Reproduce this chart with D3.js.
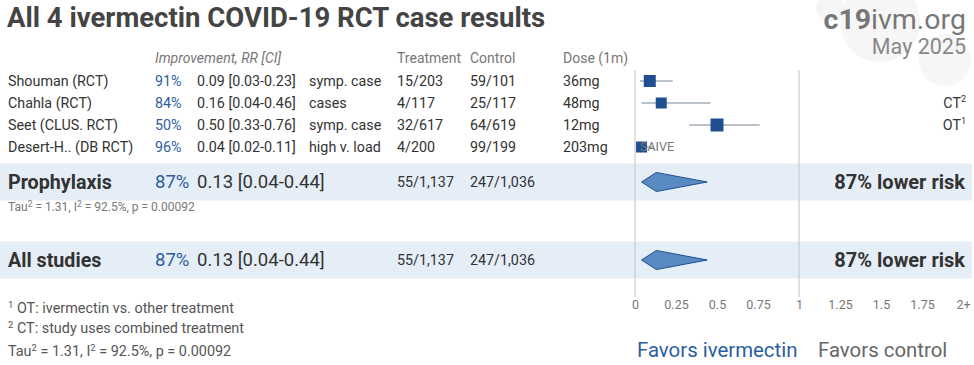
<!DOCTYPE html>
<html><head><meta charset="utf-8">
<script src="https://cdn.jsdelivr.net/npm/d3@7"></script>
<style>body{margin:0;background:#fff}svg{font-family:Roboto,"Noto Sans",sans-serif}</style>
</head><body><svg id="c" width="974" height="365"></svg>
<script>
const studies = ["Shouman (RCT)", "Chahla (RCT)", "Seet (CLUS. RCT)", "Desert-H.. (DB RCT)"];
const improvement = ["91%", "84%", "50%", "96%"];
const rr = [0.09, 0.16, 0.50, 0.04];
const lo = [0.03, 0.04, 0.33, 0.02];
const hi = [0.23, 0.46, 0.76, 0.11];
const outcomes = ["symp. case", "cases", "symp. case", "high v. load"];
const treatment = ["15/203", "4/117", "32/617", "4/200"];
const control = ["59/101", "25/117", "64/619", "99/199"];
const dose = ["36mg", "48mg", "12mg", "203mg"];
const weights = [12, 11, 13, 11];
const notes = [null, ["CT", "2"], ["OT", "1"], null];
const tags = ["", "", "", "SAIVE"];
const summaryLabels = ["Prophylaxis", "All studies"];
const summaryImp = ["87%", "87%"];
const summaryRR = [0.13, 0.13];
const summaryLo = [0.04, 0.04];
const summaryHi = [0.44, 0.44];
const summaryT = ["55/1,137", "55/1,137"];
const summaryC = ["247/1,036", "247/1,036"];
const summaryRisk = ["87% lower risk", "87% lower risk"];
const tickVals = [0, 0.25, 0.5, 0.75, 1, 1.25, 1.5, 1.75, 2];
const tickLabels = ["0", "0.25", "0.5", "0.75", "1", "1.25", "1.5", "1.75", "2+"];

const svg = d3.select("#c");
const x = d3.scaleLinear().domain([0, 2]).range([635, 963]);
const rowY = d3.scalePoint().domain(d3.range(studies.length)).range([81, 147]);
const sumY = [182, 260];
const blue = "#2d5d9f", dark = "#333";

// faint background decoration top right
const deco = svg.append("g").attr("opacity", 0.07);
[[880, 22, 40], [945, 60, 26], [830, 8, 14]].forEach(([cx, cy, r]) => {
  deco.append("circle").attr("cx", cx).attr("cy", cy).attr("r", r).attr("fill", "#888");
});

// summary bands
sumY.forEach(y => svg.append("rect").attr("x", 0).attr("y", y - 18.5).attr("width", 972).attr("height", 37).attr("fill", "#e5edf7"));

// vertical lines
[0, 1].forEach(v => svg.append("line").attr("x1", x(v)).attr("x2", x(v)).attr("y1", 70).attr("y2", 297).attr("stroke", "#ccc").attr("stroke-width", 1.2));

// title
svg.append("text").attr("x", 7).attr("y", 27).attr("font-size", 27.5).attr("font-weight", "bold").attr("fill", "#444").text("All 4 ivermectin COVID-19 RCT case results");
const brand = svg.append("text").attr("x", 966).attr("y", 29).attr("text-anchor", "end").attr("font-size", 28.5).attr("fill", "#777");
brand.append("tspan").attr("font-weight", "bold").text("c19");
brand.append("tspan").text("ivm.org");
svg.append("text").attr("x", 966).attr("y", 54).attr("text-anchor", "end").attr("font-size", 21.5).attr("fill", "#888").text("May 2025");

// header
const hdr = [["Improvement, RR [CI]", 155], ["Treatment", 397], ["Control", 470], ["Dose (1m)", 563]];
hdr.forEach(([t, hx], i) => svg.append("text").attr("x", hx).attr("y", 63).attr("font-size", 14).attr("fill", "#777").attr("font-style", i === 0 ? "italic" : "normal").text(t));

// study rows
const txt = (g, xx, f, col, fs = 14.3) => g.append("text").attr("x", xx).attr("dy", "0.35em").attr("font-size", fs).attr("fill", col).text(f);
const rows = svg.append("g").selectAll("g").data(studies).join("g").attr("transform", (d, i) => `translate(0,${rowY(i)})`);
rows.each(function (d, i) {
  const g = d3.select(this);
  txt(g, 8, d, dark);
  txt(g, 155, improvement[i], blue);
  txt(g, 197, `${rr[i].toFixed(2)} [${lo[i].toFixed(2)}-${hi[i].toFixed(2)}]`, dark);
  txt(g, 309, outcomes[i], dark);
  txt(g, 397, treatment[i], dark);
  txt(g, 470, control[i], dark);
  txt(g, 563, dose[i], dark);
  g.append("line").attr("x1", x(lo[i])).attr("x2", x(hi[i])).attr("stroke", "#a3adba").attr("stroke-width", 1.5);
  g.append("rect").attr("x", x(rr[i]) - weights[i] / 2).attr("y", -weights[i] / 2).attr("width", weights[i]).attr("height", weights[i]).attr("fill", "#1f4f8f");
  if (tags[i]) txt(g, 640, tags[i], "#777", 12.5);
  if (notes[i]) {
    const t = g.append("text").attr("x", 966).attr("dy", "0.35em").attr("text-anchor", "end").attr("font-size", 14.3).attr("fill", dark);
    t.append("tspan").text(notes[i][0]);
    t.append("tspan").attr("font-size", 9).attr("dy", -6).text(notes[i][1]);
  }
});

// summaries
summaryLabels.forEach((lab, i) => {
  const g = svg.append("g").attr("transform", `translate(0,${sumY[i]})`);
  g.append("text").attr("x", 8).attr("dy", "0.35em").attr("font-size", 19.7).attr("font-weight", "bold").attr("fill", dark).text(lab);
  txt(g, 155, summaryImp[i], blue, 18.5);
  txt(g, 197, `${summaryRR[i].toFixed(2)} [${summaryLo[i].toFixed(2)}-${summaryHi[i].toFixed(2)}]`, dark, 18.5);
  txt(g, 397, summaryT[i], dark, 14.3);
  txt(g, 470, summaryC[i], dark, 14.3);
  g.append("path").attr("d", `M${x(summaryLo[i])},0 L${x(summaryRR[i])},-9.5 L${x(summaryHi[i])},0 L${x(summaryRR[i])},9.5 Z`).attr("fill", "#5a8ac3").attr("stroke", "#1f4f8f").attr("stroke-width", 1);
  g.append("text").attr("x", 965).attr("dy", "0.35em").attr("text-anchor", "end").attr("font-size", 20).attr("font-weight", "bold").attr("fill", dark).text(summaryRisk[i]);
});

// tau small under prophylaxis
const tau1 = svg.append("text").attr("x", 8).attr("y", 211).attr("font-size", 12).attr("fill", "#777");
tau1.append("tspan").text("Tau");
tau1.append("tspan").attr("dy", -4).attr("font-size", 8.5).text("2");
tau1.append("tspan").attr("dy", 4).text(" = 1.31, I");
tau1.append("tspan").attr("dy", -4).attr("font-size", 8.5).text("2");
tau1.append("tspan").attr("dy", 4).text(" = 92.5%, p = 0.00092");

// axis
const axis = d3.axisBottom(x).tickValues(tickVals).tickFormat((d, i) => tickLabels[i]).tickSize(0).tickPadding(0);
const ag = svg.append("g").attr("transform", "translate(0,300)").call(axis);
ag.select(".domain").remove();
ag.selectAll("text").attr("font-size", 12.5).attr("fill", "#777").attr("font-family", "Roboto,sans-serif").attr("dy", "0.71em");

svg.append("text").attr("x", 637).attr("y", 357).attr("font-size", 20.4).attr("fill", blue).text("Favors ivermectin");
svg.append("text").attr("x", 818).attr("y", 357).attr("font-size", 20.4).attr("fill", "#666").text("Favors control");

// footnotes
const fn = [["1", " OT: ivermectin vs. other treatment", 313], ["2", " CT: study uses combined treatment", 333]];
fn.forEach(([s, t, y]) => {
  const e = svg.append("text").attr("x", 8).attr("y", y).attr("font-size", 14.4).attr("fill", "#555");
  e.append("tspan").attr("font-size", 9.5).attr("dy", -5).text(s);
  e.append("tspan").attr("dy", 5).text(t);
});
const tau2 = svg.append("text").attr("x", 8).attr("y", 356).attr("font-size", 14.4).attr("fill", "#555");
tau2.append("tspan").text("Tau");
tau2.append("tspan").attr("dy", -5).attr("font-size", 9.5).text("2");
tau2.append("tspan").attr("dy", 5).text(" = 1.31, I");
tau2.append("tspan").attr("dy", -5).attr("font-size", 9.5).text("2");
tau2.append("tspan").attr("dy", 5).text(" = 92.5%, p = 0.00092");
</script></body></html>
